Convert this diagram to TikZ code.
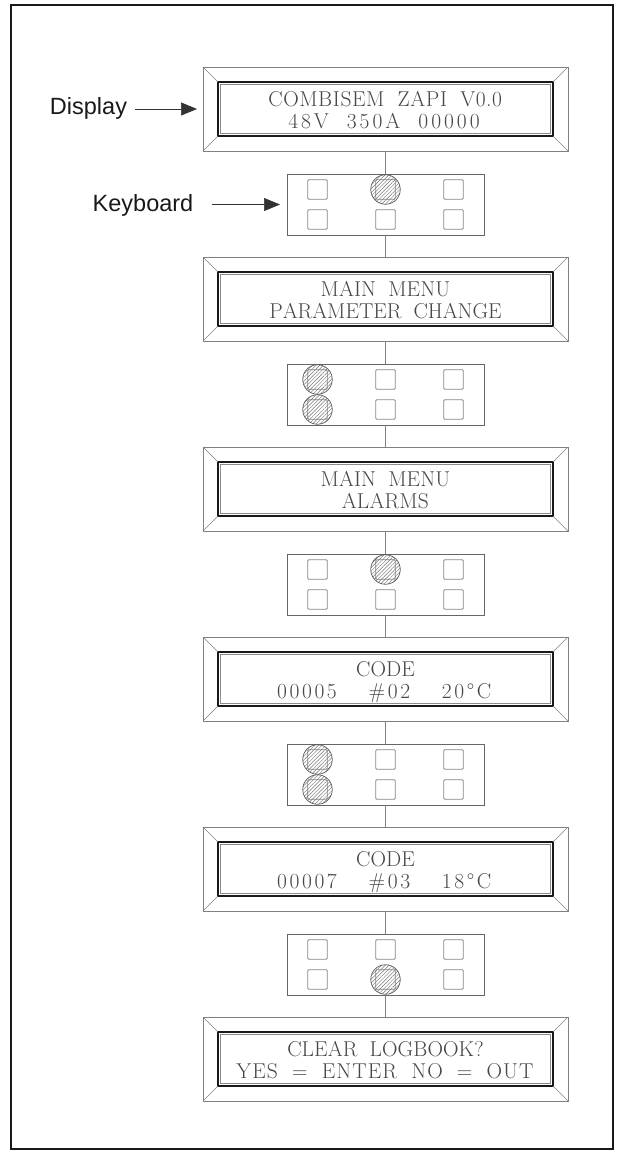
\documentclass[tikz,border=0pt]{standalone}
\usepackage{fontspec}
\newfontfamily\lab{Liberation Sans}
\usetikzlibrary{arrows.meta,patterns.meta}

% letter-spaced LCD text: #1 = extra tracking (pt); ~ = wide space
\newcommand\lcdtxt[2]{\def\lcdt{#1}\lcdloop#2\relax\hspace{-\lcdt pt}}
\def\lcdloop#1{\ifx#1\relax\else\ifx#1~\hspace{12pt}\else#1\fi\hspace{\lcdt pt}\expandafter\lcdloop\fi}

\newcommand\panel[6]{%
  \node[dout] (#1) at (385.5,#2) {};
  \node[din] (#1i) at (#1.center) {};
  \draw[bev] (#1.north west) -- (#1i.north west)
             (#1.north east) -- (#1i.north east)
             (#1.south west) -- (#1i.south west)
             (#1.south east) -- (#1i.south east);
  \draw[ingray] ([shift={(2.6pt,-2.6pt)}]#1i.north west) rectangle ([shift={(-2.6pt,2.6pt)}]#1i.south east);
  \node[lcd] (#1a) at ([yshift=-39pt]#1.north) {\lcdtxt{#3}{#4}};
  \node[lcd] (#1b) at ([yshift=-61pt]#1.north) {\lcdtxt{#5}{#6}};
}
\newcommand\keypad[3]{%
  \node[kbd] (#1) at (385.5,#2) {};
  \foreach \c [count=\i] in {-68,0,68}{%
    \foreach \r [count=\j] in {15,-15}{%
      \node[keybox] (#1-\i-\j) at ([shift={(\c pt,\r pt)}]#1.center) {};
    }%
  }%
  \foreach \c/\r [count=\k] in {#3}{%
    \node[press] (#1-p\k) at ([shift={(\c pt,\r pt)}]#1.center) {};
  }%
}

\begin{document}
\begin{tikzpicture}[x=1pt,y=-1pt,
  frame/.style={draw=black!90,line width=1.4pt},
  dout/.style={draw=black!50,line width=0.8pt,minimum width=365pt,minimum height=84pt,inner sep=0pt,outer sep=0pt},
  din/.style={draw=black!90,line width=2pt,minimum width=335pt,minimum height=54pt,inner sep=0pt,outer sep=0pt},
  bev/.style={draw=black!50,line width=0.6pt},
  ingray/.style={draw=black!45,line width=0.8pt},
  lcd/.style={anchor=base,inner sep=0pt,text=black!72,text height=16pt,text depth=2pt,font=\fontsize{21.5pt}{21.5pt}\selectfont},
  kbd/.style={draw=black!60,line width=0.8pt,minimum width=197pt,minimum height=61pt,inner sep=0pt,outer sep=0pt},
  keybox/.style={draw=black!48,line width=0.8pt,minimum size=19.5pt,inner sep=0pt,rounded corners=1pt},
  press/.style={circle,draw=black!65,line width=0.7pt,minimum size=29.5pt,inner sep=0pt,pattern={Lines[angle=45,distance=2.6pt,line width=0.45pt]},pattern color=black!55},
  conn/.style={draw=black!50,line width=0.9pt},
  lbl/.style={anchor=base,inner sep=0pt,text=black!90,font=\lab\fontsize{23.5pt}{23.5pt}\selectfont},
  arr/.style={draw=black!80,line width=0.7pt,-{Triangle[length=16pt,width=13pt]}}
]
\useasboundingbox (0,0) rectangle (618,1152);
\draw[frame] (11,5) rectangle (613,1149);

\panel{d1}{109}{0.6}{COMBISEM~ZAPI~V0.0}{3.0}{48V~350A~00000}
\keypad{k1}{204.5}{0/15}
\panel{d2}{299}{0.1}{MAIN~MENU}{0}{PARAMETER~CHANGE}
\keypad{k2}{394.5}{-68/15,-68/-15}
\panel{d3}{489}{0.1}{MAIN~MENU}{0.2}{ALARMS}
\keypad{k3}{584.5}{0/15}
\panel{d4}{679}{0}{CODE}{2.6}{00005~~\#02~~20\textdegree C}
\keypad{k4}{774.5}{-68/15,-68/-15}
\panel{d5}{869}{0}{CODE}{2.6}{00007~~\#03~~18\textdegree C}
\keypad{k5}{964.5}{0/-15}
\panel{d6}{1059}{0.1}{CLEAR~LOGBOOK?}{1.1}{YES~=~ENTER~NO~=~OUT}

\draw[conn] (d1.south) -- (k1.north);
\draw[conn] (k1.south) -- (d2.north);
\draw[conn] (d2.south) -- (k2.north);
\draw[conn] (k2.south) -- (d3.north);
\draw[conn] (d3.south) -- (k3.north);
\draw[conn] (k3.south) -- (d4.north);
\draw[conn] (d4.south) -- (k4.north);
\draw[conn] (k4.south) -- (d5.north);
\draw[conn] (d5.south) -- (k5.north);
\draw[conn] (k5.south) -- (d6.north);

\node[lbl] (ldisp) at (88.5,114) {Display};
\node[lbl] (lkbd) at (143,211) {Keyboard};
\path (ldisp.east |- d1.west) coordinate (ds);
\path (lkbd.east |- k1.west) coordinate (ks);
\draw[arr,shorten >=6pt] ([xshift=8pt]ds) -- (d1.west);
\draw[arr,shorten >=7pt] ([xshift=18pt]ks) -- (k1.west);
\end{tikzpicture}
\end{document}
